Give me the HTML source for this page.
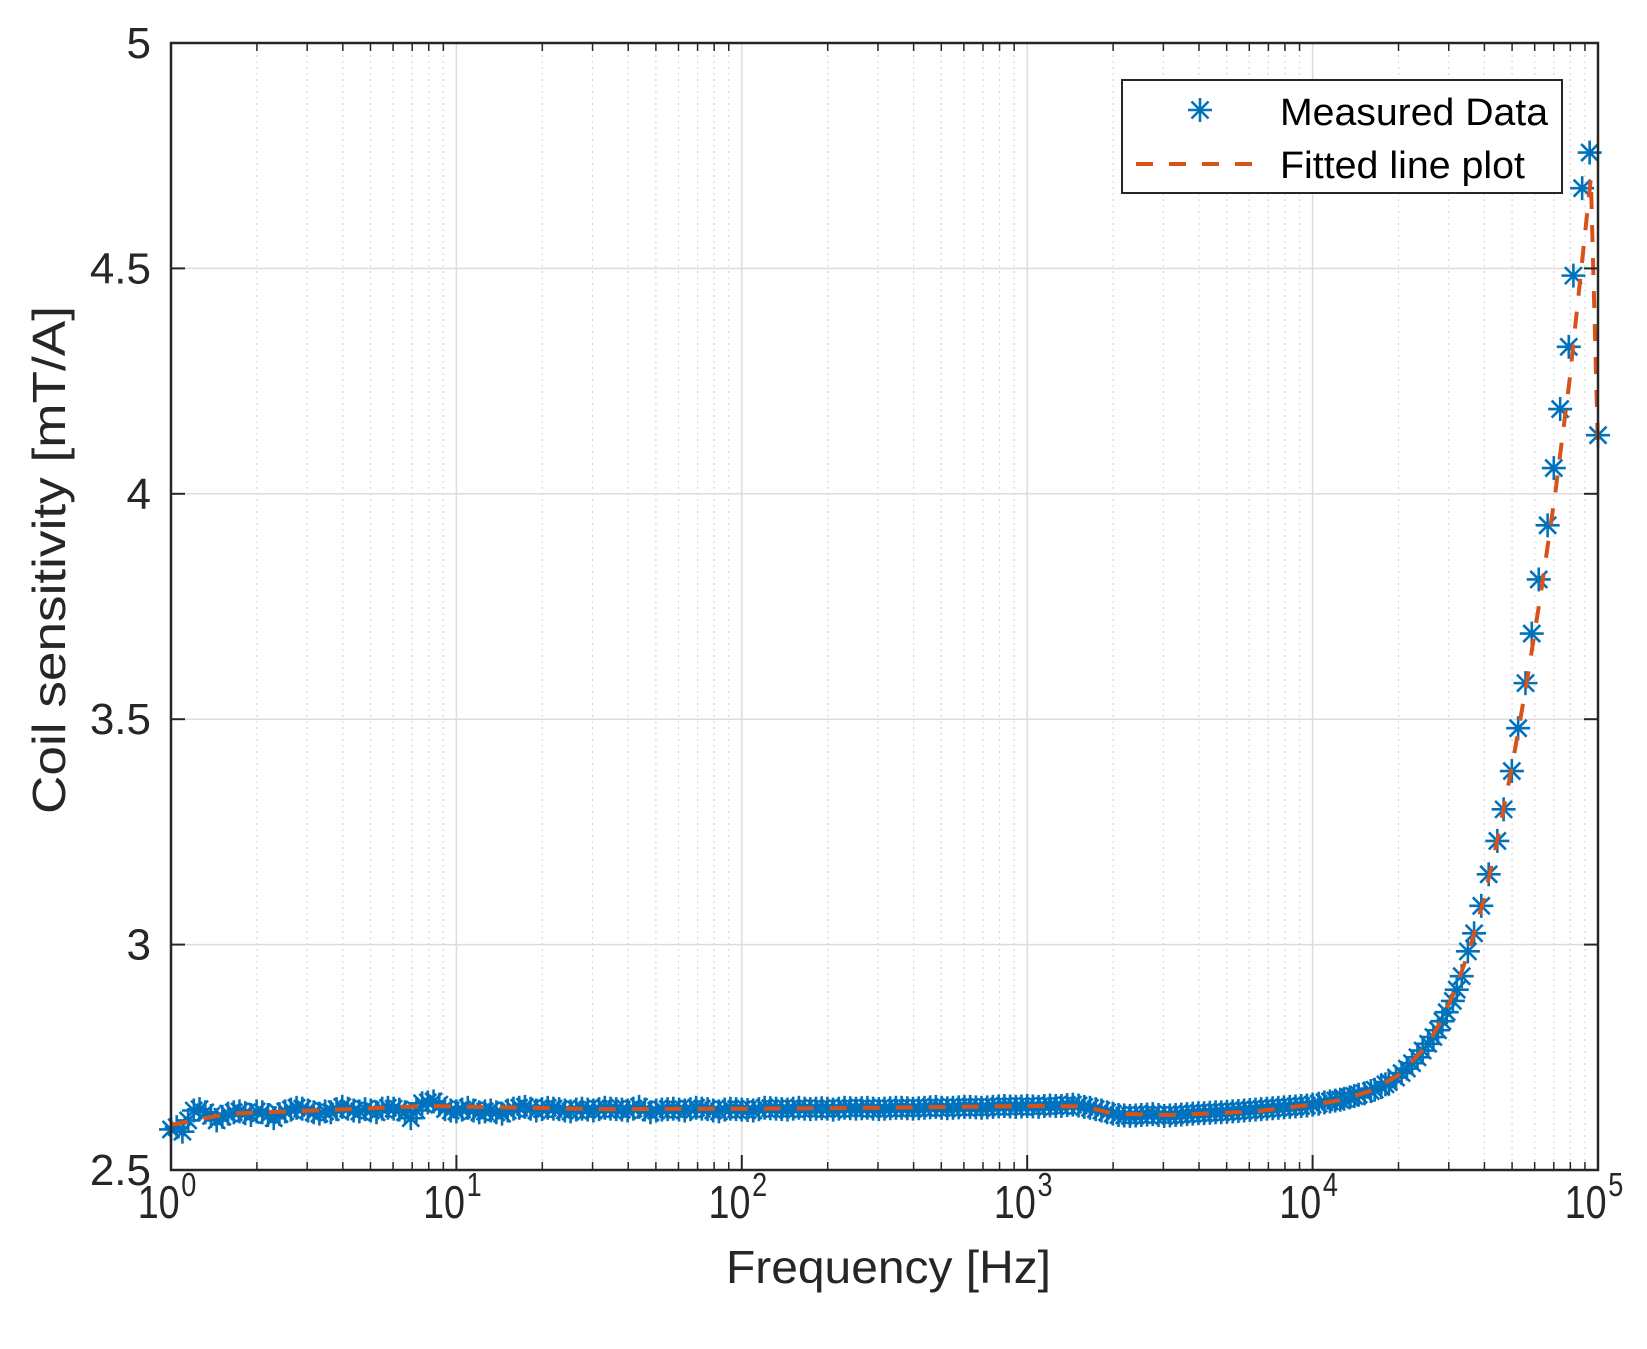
<!DOCTYPE html>
<html><head><meta charset="utf-8"><style>
html,body{margin:0;padding:0;background:#fff;}
svg{display:block;font-family:"Liberation Sans",Arial,sans-serif;}
</style></head><body>
<svg id="chart" width="1647" height="1349" viewBox="0 0 1647 1349" xmlns="http://www.w3.org/2000/svg">
<g id="grid"></g>
<g id="series"></g>
<g id="axes"></g>
<g id="legend">
  <rect x="1122" y="80" width="440" height="113" fill="#fff" stroke="#262626" stroke-width="2"/>
  <g>
    <g id="legMarker"></g>
    <text x="1280" y="125" font-size="38" fill="#000" textLength="268" lengthAdjust="spacingAndGlyphs">Measured Data</text>
  </g>
  <g>
    <line x1="1136" y1="164" x2="1253" y2="164" stroke="#D95319" stroke-width="4" stroke-dasharray="17,16"/>
    <text x="1280" y="178" font-size="38" fill="#000" textLength="245" lengthAdjust="spacingAndGlyphs">Fitted line plot</text>
  </g>
</g>
<text x="726" y="1283" font-size="46" fill="#262626" textLength="325" lengthAdjust="spacingAndGlyphs">Frequency [Hz]</text>
<text transform="translate(65,560) rotate(-90)" font-size="46" text-anchor="middle" fill="#262626" textLength="508" lengthAdjust="spacingAndGlyphs">Coil sensitivity [mT/A]</text>
</svg>
<script>
// log10 of frequency, low region
const lowExp = [0,0.04,0.08,0.12,0.16,0.2,0.24,0.28,0.32,0.36,0.4,0.44,0.48,0.52,0.56,0.6,0.64,0.68,0.72,0.76,0.8,0.84,0.88,0.92,0.96,1,1.04,1.08,1.12,1.16,1.2,1.24,1.28,1.32,1.36,1.4,1.44,1.48,1.52,1.56,1.6,1.64,1.68,1.72,1.76,1.8,1.84,1.88,1.92,1.96,2,2.04,2.08,2.12,2.16,2.2,2.24,2.28,2.32,2.36,2.4,2.44,2.48,2.52,2.56,2.6,2.64,2.68,2.72,2.76,2.8,2.84,2.88,2.92,2.96,3,3.04,3.08,3.12,3.16,3.2,3.24,3.28,3.32,3.36,3.4,3.44,3.48,3.52,3.56,3.6,3.64,3.68,3.72,3.76,3.8,3.84,3.88,3.92,3.96,4];
const lowVal = [2.59,2.585,2.632,2.628,2.61,2.625,2.63,2.622,2.628,2.615,2.63,2.638,2.632,2.625,2.628,2.64,2.632,2.635,2.628,2.638,2.634,2.615,2.648,2.652,2.635,2.63,2.638,2.628,2.632,2.625,2.636,2.64,2.632,2.638,2.635,2.63,2.636,2.632,2.638,2.635,2.632,2.64,2.628,2.634,2.636,2.632,2.638,2.635,2.63,2.636,2.634,2.632,2.638,2.636,2.634,2.638,2.635,2.637,2.634,2.638,2.636,2.638,2.635,2.637,2.638,2.636,2.638,2.64,2.637,2.639,2.64,2.638,2.64,2.642,2.64,2.642,2.64,2.643,2.642,2.645,2.64,2.635,2.628,2.622,2.62,2.622,2.624,2.62,2.622,2.624,2.626,2.627,2.628,2.63,2.632,2.634,2.636,2.638,2.64,2.642,2.645];
const lowExp2 = [0.02,0.06,0.1,0.14,0.18,0.22,0.26,0.3,0.34,0.38,0.42,0.46,0.5,0.54,0.58,0.62,0.66,0.7,0.74,0.78,0.82,0.86,0.9,0.94,0.98,1.02,1.06,1.1,1.14,1.18,1.22,1.26,1.3,1.34,1.38,1.42,1.46,1.5,1.54,1.58,1.62,1.66,1.7,1.74,1.78,1.82,1.86,1.9,1.94,1.98,2.02,2.06,2.1,2.14,2.18,2.22,2.26,2.3,2.34,2.38,2.42,2.46,2.5,2.54,2.58,2.62,2.66,2.7,2.74,2.78,2.82,2.86,2.9,2.94,2.98,3.02,3.06,3.1,3.14,3.18,3.22,3.26,3.3,3.34,3.38,3.42,3.46,3.5,3.54,3.58,3.62,3.66,3.7,3.74,3.78,3.82,3.86,3.9,3.94,3.98];
const lowVal2 = [2.595,2.61,2.635,2.62,2.618,2.628,2.626,2.63,2.622,2.624,2.634,2.636,2.628,2.63,2.635,2.636,2.63,2.632,2.636,2.636,2.628,2.632,2.65,2.645,2.632,2.634,2.632,2.63,2.628,2.632,2.638,2.636,2.635,2.636,2.632,2.634,2.634,2.635,2.636,2.634,2.636,2.634,2.632,2.635,2.634,2.635,2.636,2.632,2.634,2.635,2.633,2.635,2.637,2.635,2.636,2.636,2.636,2.636,2.636,2.637,2.637,2.636,2.636,2.638,2.637,2.637,2.639,2.638,2.638,2.64,2.639,2.639,2.641,2.641,2.641,2.641,2.642,2.642,2.644,2.643,2.638,2.632,2.625,2.621,2.621,2.623,2.622,2.621,2.623,2.625,2.626,2.628,2.629,2.631,2.633,2.635,2.637,2.639,2.641,2.643];
// high region
const highFreq = [10500,11000,11500,12000,12500,12900,13500,14000,14500,15200,16000,16500,17400,18000,18500,19600,20500,21400,22300,23300,24300,25400,26500,27500,28500,29500,31000,32000,33300,35000,36800,39000,41400,44400,46700,49900,52500,55700,58600,62000,66600,70000,73700,79000,82000,88000,93500,100000];
const highVal = [2.647,2.65,2.652,2.654,2.656,2.658,2.661,2.664,2.667,2.67,2.675,2.678,2.684,2.69,2.695,2.705,2.715,2.725,2.737,2.75,2.765,2.78,2.795,2.81,2.83,2.85,2.875,2.9,2.93,2.985,3.025,3.086,3.156,3.23,3.30,3.385,3.48,3.58,3.69,3.81,3.93,4.057,4.188,4.326,4.484,4.678,4.757,4.13];
// fitted line (log10 f, value)
const fitExp = [0,0.2,0.5,0.9,1.5,2,2.5,3,3.2,3.3,3.5,3.8,4,4.1,4.2,4.3,4.4,4.45,4.5,4.55,4.6,4.65,4.7,4.75,4.8,4.85,4.9,4.95,4.975,5];
const fitVal = [2.6,2.625,2.632,2.642,2.635,2.636,2.638,2.642,2.641,2.625,2.622,2.63,2.645,2.655,2.675,2.71,2.775,2.83,2.9,2.99,3.1,3.24,3.4,3.58,3.78,4.0,4.25,4.55,4.7,4.1];
const yTicks = [2.5,3,3.5,4,4.5,5];
const yTickLabels = ['2.5','3','3.5','4','4.5','5'];
const xDecades = [0,1,2,3,4,5];

const L=171,R=1598,T=43,B=1170;
const NS='http://www.w3.org/2000/svg';
function xs(e){return L+(e-0)/(5-0)*(R-L);}
function ys(v){return B-(v-2.5)/(5-2.5)*(B-T);}
function mk(tag,attrs,parent){const el=document.createElementNS(NS,tag);for(const k in attrs)el.setAttribute(k,attrs[k]);parent.appendChild(el);return el;}
const grid=document.getElementById('grid'),axes=document.getElementById('axes'),series=document.getElementById('series');
for(let d=0;d<5;d++){for(let m=2;m<=9;m++){const x=xs(d+Math.log10(m));
 const g=mk('line',{x1:x,y1:T,x2:x,y2:B,stroke:'#d6d6d6','stroke-width':1.2,'stroke-dasharray':'2,4'},grid);
 
 
 mk('line',{x1:x,y1:B,x2:x,y2:B-8,stroke:'#262626','stroke-width':1.5},axes);
 mk('line',{x1:x,y1:T,x2:x,y2:T+8,stroke:'#262626','stroke-width':1.5},axes);}}
xDecades.forEach(d=>{const x=xs(d);
 const g=mk('line',{x1:x,y1:T,x2:x,y2:B,stroke:'#dcdcdc','stroke-width':1.5},grid);
 
 
 mk('line',{x1:x,y1:B,x2:x,y2:B-15,stroke:'#262626','stroke-width':2},axes);
 const t=mk('text',{transform:'translate('+(x-4)+',1218) scale(0.82,1)','font-size':46,'text-anchor':'middle',fill:'#262626'},axes);
 
 
 t.textContent='10';
 const s=mk('tspan',{dy:-22,dx:2,'font-size':33},t);s.textContent=String(d);});
yTicks.forEach((v,i)=>{const y=ys(v);
 const g=mk('line',{x1:L,y1:y,x2:R,y2:y,stroke:'#dcdcdc','stroke-width':1.5},grid);
 
 
 mk('line',{x1:L,y1:y,x2:L+14,y2:y,stroke:'#262626','stroke-width':2},axes);
 mk('line',{x1:R,y1:y,x2:R-14,y2:y,stroke:'#262626','stroke-width':2},axes);
 const t=mk('text',{transform:'translate(151,'+(y+15)+')','font-size':44,'text-anchor':'end',fill:'#262626'},axes);
 
 
 t.textContent=yTickLabels[i];});
const box=mk('rect',{x:L,y:T,width:R-L,height:B-T,fill:'none',stroke:'#262626','stroke-width':2.5},axes);


function star(cx,cy,p,name){const g=mk('g',{stroke:'#0072BD','stroke-width':2.6},p);
 
 
 const r=12,d=8.5;
 mk('line',{x1:cx-r,y1:cy,x2:cx+r,y2:cy},g);mk('line',{x1:cx,y1:cy-r,x2:cx,y2:cy+r},g);
 mk('line',{x1:cx-d,y1:cy-d,x2:cx+d,y2:cy+d},g);mk('line',{x1:cx-d,y1:cy+d,x2:cx+d,y2:cy-d},g);}
lowExp.forEach((e,i)=>star(xs(e),ys(lowVal[i]),series,'measured-point'));
lowExp2.forEach((e,i)=>star(xs(e),ys(lowVal2[i]),series,'measured-point'));
highFreq.forEach((f,i)=>star(xs(Math.log10(f)),ys(highVal[i]),series,'measured-point'));
const fl=mk('polyline',{points:fitExp.map((e,i)=>xs(e)+','+ys(fitVal[i])).join(' '),fill:'none',stroke:'#D95319','stroke-width':4,'stroke-dasharray':'17,16'},series);


star(1200,110,document.getElementById('legMarker'),'legend-marker');
</script>
</body></html>
